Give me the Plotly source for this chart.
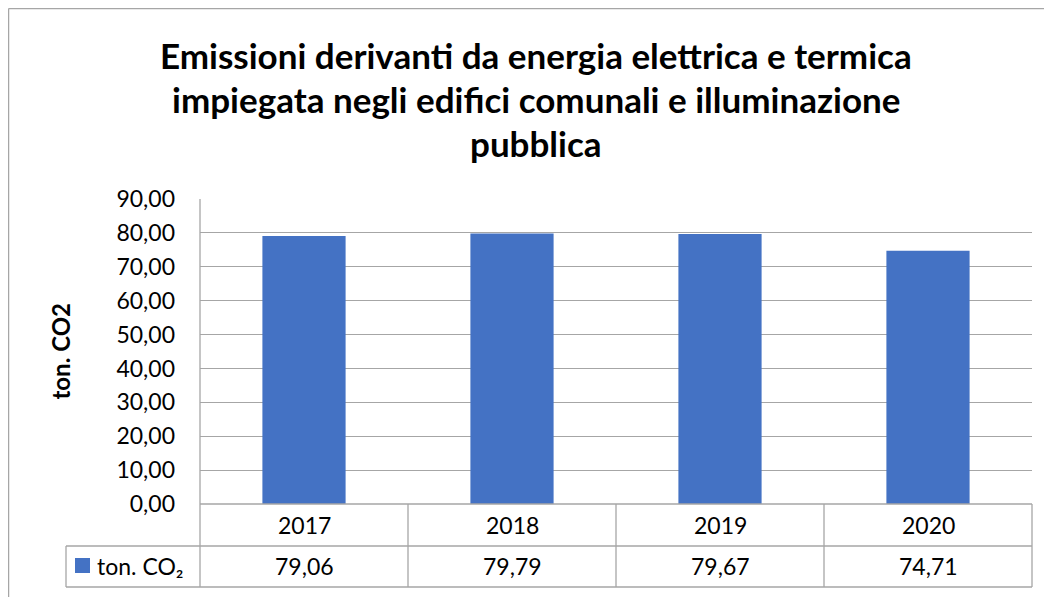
import plotly.graph_objects as go

YEARS = ["2017", "2018", "2019", "2020"]
VALUES = [79.06, 79.79, 79.67, 74.71]
VALUE_LABELS = ["79,06", "79,79", "79,67", "74,71"]
SERIES_NAME = "ton. CO₂"
Y_TITLE = "ton. CO2"
TITLE_LINES = [
    "Emissioni derivanti da energia elettrica e termica",
    "impiegata negli edifici comunali e illuminazione",
    "pubblica",
]

OFF = 8  # page body margin
W, H = 1052 - OFF, 597 - OFF
L, R, T, B = 200 - OFF, 1052 - 1032, 199 - OFF, 597 - 504
PW = W - L - R
PH = H - T - B
FONT = "Lato, Carlito, Calibri, sans-serif"
BAR_COLOR = "#4472C4"
LINE_COLOR = "#a6a6a6"


def px_x(x):
    return (x - OFF - L) / PW


def px_y(y):
    return (H - B - (y - OFF)) / PH


fig = go.Figure()
fig.add_trace(go.Bar(x=YEARS, y=VALUES, marker=dict(color=BAR_COLOR, line=dict(width=0)),
                     name=SERIES_NAME, showlegend=False))

shapes = []
line = dict(color=LINE_COLOR, width=1.3)
# outer frame (left and top)
shapes.append(dict(type="line", xref="paper", yref="paper", x0=px_x(8.6), x1=px_x(1060),
                   y0=px_y(8.6), y1=px_y(8.6), line=line))
shapes.append(dict(type="line", xref="paper", yref="paper", x0=px_x(8.6), x1=px_x(8.6),
                   y0=px_y(8.6), y1=px_y(610), line=line))
# table rows
row1 = px_y(546)
row2 = px_y(587)
leg_left = px_x(66)
shapes.append(dict(type="line", xref="paper", yref="paper", x0=0, x1=0, y0=1, y1=row2, line=line))
shapes.append(dict(type="line", xref="paper", yref="paper", x0=0, x1=1, y0=0, y1=0, line=line))
shapes.append(dict(type="line", xref="paper", yref="paper", x0=leg_left, x1=1, y0=row1, y1=row1, line=line))
shapes.append(dict(type="line", xref="paper", yref="paper", x0=leg_left, x1=1, y0=row2, y1=row2, line=line))
shapes.append(dict(type="line", xref="paper", yref="paper", x0=leg_left, x1=leg_left, y0=row1, y1=row2, line=line))
for i in range(1, len(YEARS) + 1):
    xb = i / len(YEARS)
    shapes.append(dict(type="line", xref="paper", yref="paper", x0=xb, x1=xb, y0=0, y1=row2, line=line))
# legend key square
shapes.append(dict(type="rect", xref="paper", yref="paper", x0=px_x(75), x1=px_x(90),
                   y0=px_y(573), y1=px_y(558), fillcolor=BAR_COLOR, line=dict(width=0)))

annotations = []
title_y = [55, 99, 143]
for txt, yy in zip(TITLE_LINES, title_y):
    annotations.append(dict(text="<b>" + txt + "</b>", xref="paper", yref="paper", x=px_x(536), y=px_y(yy),
                            xanchor="center", yanchor="middle", showarrow=False,
                            font=dict(family=FONT, size=35, color="#000000")))
annotations.append(dict(text="<b>" + Y_TITLE + "</b>", xref="paper", yref="paper", x=px_x(60), y=0.5,
                        textangle=-90, xanchor="center", yanchor="middle", showarrow=False,
                        font=dict(family=FONT, size=24, color="#000000")))
for i, (yr, lab) in enumerate(zip(YEARS, VALUE_LABELS)):
    annotations.append(dict(text=yr, xref="x", yref="paper", x=i, y=px_y(525), xanchor="center",
                            yanchor="middle", showarrow=False, font=dict(family=FONT, size=23, color="#000000")))
    annotations.append(dict(text=lab, xref="x", yref="paper", x=i, y=px_y(566), xanchor="center",
                            yanchor="middle", showarrow=False, font=dict(family=FONT, size=23, color="#000000")))
annotations.append(dict(text=SERIES_NAME, xref="paper", yref="paper", x=px_x(95), y=px_y(566),
                        xanchor="left", yanchor="middle", showarrow=False,
                        font=dict(family=FONT, size=23, color="#000000")))

fig.update_layout(
    width=W, height=H,
    margin=dict(l=L, r=R, t=T, b=B),
    paper_bgcolor="white", plot_bgcolor="white",
    separators=",.",
    bargap=0.6,
    font=dict(family=FONT, size=23, color="#000000"),
    xaxis=dict(type="category", range=[-0.5, len(YEARS) - 0.5], showticklabels=False,
               showgrid=False, zeroline=False, showline=False, ticks=""),
    yaxis=dict(range=[0, 90], dtick=10, tickformat=".2f", showgrid=True, gridcolor=LINE_COLOR,
               gridwidth=1.3, zeroline=False, showline=False, ticks="", ticklabelstandoff=24,
               tickfont=dict(family=FONT, size=23, color="#000000")),
    shapes=shapes,
    annotations=annotations,
)

fig.write_html("out.html")
